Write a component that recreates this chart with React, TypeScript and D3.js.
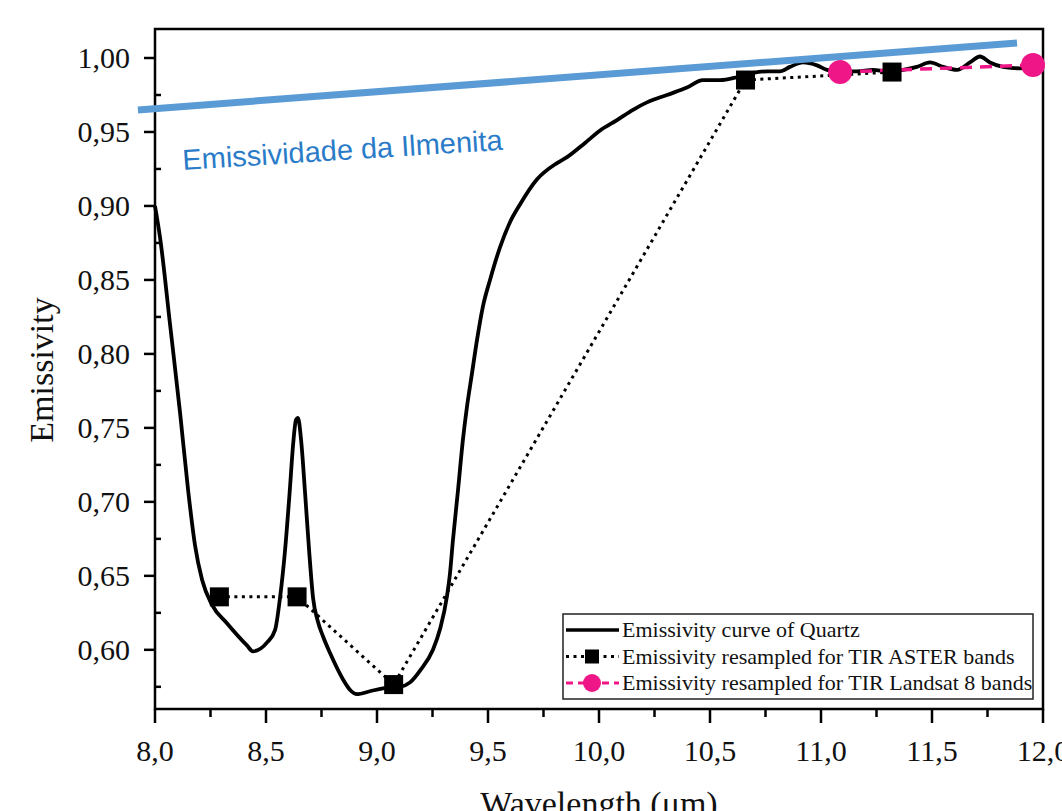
import React from 'react';
import * as d3 from 'd3';

// quartz emissivity curve
const quartzWl = [
  8.0, 8.023, 8.068, 8.113, 8.149, 8.18, 8.212, 8.257, 8.324, 8.414, 8.441,
  8.505, 8.541, 8.563, 8.586, 8.608, 8.622, 8.635, 8.644, 8.658, 8.676, 8.694, 8.712,
  8.734, 8.757, 8.788, 8.847, 8.878, 8.91, 8.968, 9.027, 9.104, 9.149, 9.194, 9.252,
  9.284, 9.315, 9.329, 9.342, 9.365, 9.387, 9.405, 9.428, 9.45, 9.477, 9.509, 9.554,
  9.599, 9.644, 9.721, 9.811, 9.856, 9.937, 10.005, 10.081, 10.153, 10.216, 10.306,
  10.396, 10.468, 10.545, 10.622, 10.694, 10.757, 10.815, 10.86, 10.919, 10.982, 11.027,
  11.086, 11.162, 11.234, 11.297, 11.369, 11.432, 11.491, 11.55, 11.613, 11.671, 11.716,
  11.761, 11.82, 11.896, 11.955, 12.0,
];
const quartzEm = [
  0.9, 0.8784, 0.8196, 0.7601, 0.7081, 0.6709, 0.6473, 0.6304, 0.618, 0.603, 0.599,
  0.605, 0.6135, 0.635, 0.6676, 0.7095, 0.7385, 0.7554, 0.7568, 0.7419, 0.706, 0.6676, 0.635,
  0.619, 0.609, 0.598, 0.58, 0.573, 0.57, 0.572, 0.574, 0.575, 0.578, 0.586, 0.6,
  0.614, 0.636, 0.652, 0.674, 0.708, 0.742, 0.764, 0.787, 0.809, 0.832, 0.85, 0.872,
  0.889, 0.901, 0.918, 0.929, 0.933, 0.9426, 0.951, 0.958, 0.965, 0.97, 0.975,
  0.98, 0.985, 0.985, 0.987, 0.99, 0.991, 0.991, 0.994, 0.997, 0.995, 0.992,
  0.991, 0.991, 0.992, 0.991, 0.992, 0.994, 0.997, 0.994, 0.992, 0.997, 1.001,
  0.997, 0.994, 0.993, 0.994, 0.995,
];

// resampled bands
const asterWl = [8.29, 8.64, 9.075, 10.66, 11.32];
const asterEm = [0.6358, 0.6358, 0.5765, 0.9851, 0.9905];
const landsatWl = [11.086, 11.955];
const landsatEm = [0.9905, 0.9953];

// ilmenite reference line
const ilmWl = [7.923, 11.883];
const ilmEm = [0.9649, 1.0101];

const xTicks = [8.0, 8.5, 9.0, 9.5, 10.0, 10.5, 11.0, 11.5, 12.0];
const yTicks = [0.6, 0.65, 0.7, 0.75, 0.8, 0.85, 0.9, 0.95, 1.0];

const legendLabels = [
  'Emissivity curve of Quartz',
  'Emissivity resampled for TIR ASTER bands',
  'Emissivity resampled for TIR Landsat 8 bands',
];

const PINK = '#ef1687';
const serif = '"Liberation Serif", "Times New Roman", serif';

export default function App() {
  const left = 155, right = 1043, top = 29, bottom = 709;

  const x = d3.scaleLinear().domain([8, 12]).range([left, right]);
  const y = d3.scaleLinear().domain([0.56, 1.0196]).range([bottom, top]);

  const comma = (f: string) => (v: number) => d3.format(f)(v).replace('.', ',');

  const quartz = quartzWl.map((w, i) => [w, quartzEm[i]] as [number, number]);
  const aster = asterWl.map((w, i) => [w, asterEm[i]] as [number, number]);
  const landsat = landsatWl.map((w, i) => [w, landsatEm[i]] as [number, number]);

  const line = d3.line<[number, number]>()
    .x(d => x(d[0]))
    .y(d => y(d[1]));
  const smooth = d3.line<[number, number]>()
    .x(d => x(d[0]))
    .y(d => y(d[1]))
    .curve(d3.curveMonotoneX);

  const xMinor = d3.range(8.25, 12, 0.5);
  const yMinor = d3.range(0.575, 1.0, 0.05);

  const annX = x(8.126), annY = y(0.9243);

  return (
    <svg width={1062} height={811}
      style={{ position: 'absolute', left: 0, top: 0, background: '#fff' }}>
      <rect x={0} y={0} width={1062} height={811} fill="#fff" />

      {/* frame */}
      <rect x={left} y={top} width={right - left} height={bottom - top}
        fill="none" stroke="#000" strokeWidth={2.5} />

      {/* y axis */}
      {yTicks.map(t => (
        <g key={'y' + t}>
          <line x1={left - 11} x2={left} y1={y(t)} y2={y(t)} stroke="#000" strokeWidth={2.5} />
          <text x={130} y={y(t)} dy="0.35em" textAnchor="end"
            fontFamily={serif} fontSize={30} fill="#111">{comma('.2f')(t)}</text>
        </g>
      ))}
      {yMinor.map(t => (
        <line key={'ym' + t} x1={left} x2={left + 6} y1={y(t)} y2={y(t)}
          stroke="#000" strokeWidth={2.5} />
      ))}

      {/* x axis */}
      {xTicks.map(t => (
        <g key={'x' + t}>
          <line x1={x(t)} x2={x(t)} y1={bottom} y2={bottom + 14} stroke="#000" strokeWidth={2.5} />
          <text x={x(t)} y={761} textAnchor="middle"
            fontFamily={serif} fontSize={30} fill="#111">{comma('.1f')(t)}</text>
        </g>
      ))}
      {xMinor.map(t => (
        <line key={'xm' + t} x1={x(t)} x2={x(t)} y1={bottom} y2={bottom + 8}
          stroke="#000" strokeWidth={2.5} />
      ))}

      <text x={(left + right) / 2} y={815} textAnchor="middle"
        fontFamily={serif} fontSize={34} fill="#111">Wavelength (μm)</text>
      <text transform="translate(53,370) rotate(-90)" textAnchor="middle"
        fontFamily={serif} fontSize={34} fill="#111">Emissivity</text>

      {/* series */}
      <path d={smooth(quartz) || ''} fill="none" stroke="#000" strokeWidth={3.8}
        strokeLinejoin="round" />
      <path d={line(aster) || ''} fill="none" stroke="#000" strokeWidth={3}
        strokeDasharray="3,4.5" />
      <path d={line(landsat) || ''} fill="none" stroke={PINK} strokeWidth={3.5}
        strokeDasharray="12,8" />
      {aster.map((d, i) => (
        <rect key={'sq' + i} x={x(d[0]) - 9.5} y={y(d[1]) - 9.5} width={19} height={19} fill="#000" />
      ))}
      {landsat.map((d, i) => (
        <circle key={'c' + i} cx={x(d[0])} cy={y(d[1])} r={12} fill={PINK} />
      ))}

      {/* ilmenite line + label */}
      <line x1={x(ilmWl[0])} y1={y(ilmEm[0])} x2={x(ilmWl[1])} y2={y(ilmEm[1])}
        stroke="#5b9bd5" strokeWidth={7} />
      <text transform={`translate(${annX},${annY}) rotate(-3.6)`}
        fontFamily='"Liberation Sans", Arial, sans-serif' fontSize={29} fill="#2a7bc8">
        Emissividade da Ilmenita
      </text>

      {/* legend */}
      <g>
        <rect x={563} y={614} width={470} height={85} fill="#fff" stroke="#222" strokeWidth={1.5} />
        {legendLabels.map((lab, i) => {
          const cy = 630 + i * 26.5;
          return (
            <g key={lab}>
              {i === 0 && <line x1={566} x2={619} y1={cy} y2={cy} stroke="#000" strokeWidth={3.5} />}
              {i === 1 && (
                <>
                  <line x1={566} x2={619} y1={cy} y2={cy} stroke="#000" strokeWidth={3} strokeDasharray="3,4.5" />
                  <rect x={585} y={cy - 7} width={14} height={14} fill="#000" />
                </>
              )}
              {i === 2 && (
                <>
                  <line x1={566} x2={619} y1={cy} y2={cy} stroke={PINK} strokeWidth={3} strokeDasharray="7,5" />
                  <circle cx={592} cy={cy} r={9} fill={PINK} />
                </>
              )}
              <text x={622} y={cy} dy="0.33em" fontFamily={serif} fontSize={22} fill="#111">{lab}</text>
            </g>
          );
        })}
      </g>
    </svg>
  );
}
